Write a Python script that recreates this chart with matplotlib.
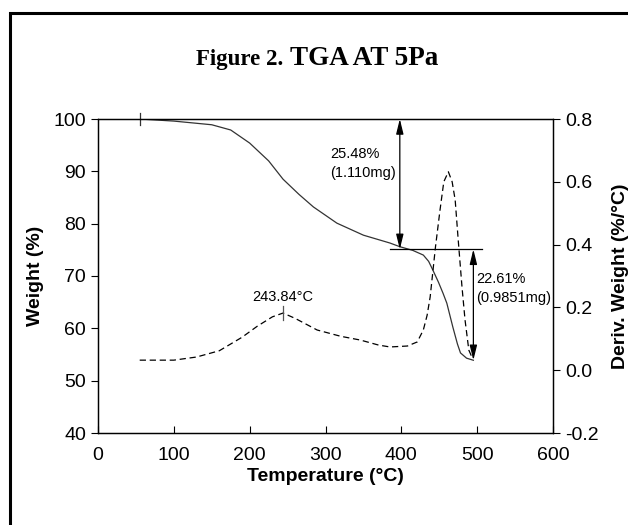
import numpy as np
import matplotlib.pyplot as plt
from matplotlib.patches import Rectangle

plt.rcParams['font.family'] = ['Liberation Sans', 'DejaVu Sans']

# weight curve (solid, left axis)
temp_w = [55, 100, 150, 175, 200, 225, 244, 265, 284, 315, 350, 385, 398, 415, 429, 436, 442, 449, 455, 460, 468, 474, 478, 486, 495]
weight = [100, 99.6, 98.9, 97.9, 95.4, 92.0, 88.5, 85.6, 83.2, 80.1, 77.8, 76.3, 75.6, 74.9, 74.0, 72.8, 71.0, 68.8, 66.7, 64.8, 60.2, 57.0, 55.3, 54.3, 53.9]

# derivative curve (dashed, right axis)
temp_d = [55, 100, 130, 160, 190, 210, 230, 244, 260, 289, 320, 346, 370, 385, 408, 421, 429, 434, 438, 445, 451, 456, 462, 467, 471, 475, 480, 484, 489, 493]
deriv = [0.032, 0.032, 0.042, 0.062, 0.105, 0.140, 0.170, 0.182, 0.165, 0.128, 0.108, 0.096, 0.080, 0.074, 0.077, 0.090, 0.128, 0.175, 0.233, 0.392, 0.51, 0.60, 0.632, 0.60, 0.542, 0.415, 0.265, 0.16, 0.064, 0.042]

peak_t = 243.84
peak_d = 0.182
step1_t = 398
step2_t = 495
level_top = 100
level_mid = 75.1
level_end = 53.9

fig = plt.figure(figsize=(6.28, 5.25), dpi=100)
ax = fig.add_axes([98/628, 1-433/525, 455/628, 314/525])
ax2 = ax.twinx()

ax.plot(temp_w, weight, color='#333333', lw=0.9)
ax2.plot(temp_d, deriv, color='black', lw=0.9, ls=(0, (5, 3)))

ax.set_xlim(0, 600)
ax.set_ylim(40, 100)
ax2.set_ylim(-0.2, 0.8)
ax.set_xticks(range(0, 601, 100))
ax.set_yticks(range(40, 101, 10))
ax2.set_yticks([-0.2, 0.0, 0.2, 0.4, 0.6, 0.8])
ax2.set_yticklabels(['-0.2', '0.0', '0.2', '0.4', '0.6', '0.8'])

ax.tick_params(axis='x', direction='in', length=5, labelsize=14, pad=10)
ax.tick_params(axis='y', direction='out', length=5, labelsize=14)
ax2.tick_params(axis='y', direction='out', length=5, labelsize=14)
for a in (ax, ax2):
    for s in a.spines.values():
        s.set_linewidth(0.9)

ax.set_xlabel('Temperature (°C)', fontsize=14, fontweight='bold', labelpad=3)
ax.set_ylabel('Weight (%)', fontsize=14, fontweight='bold', labelpad=7)
ax2.set_ylabel('Deriv. Weight (%/°C)', fontsize=14, fontweight='bold', labelpad=10)

# markers
ax.plot([temp_w[0], temp_w[0]], [98.8, 101.2], color='#333333', lw=0.9, clip_on=False)
ax2.plot([peak_t, peak_t], [peak_d - 0.022, peak_d + 0.022], color='#555555', lw=0.9)
ax2.text(peak_t, peak_d + 0.03, '243.84°C', ha='center', va='bottom', fontsize=10.5)

# step annotations
arrow_style = dict(arrowstyle='<|-|>,head_length=0.9,head_width=0.22', color='black',
                   lw=0.9, mutation_scale=10, shrinkA=0, shrinkB=0)
ax.annotate('', xy=(step1_t, level_top), xytext=(step1_t, level_mid), arrowprops=arrow_style)
ax.plot([385, 507], [level_mid, level_mid], color='black', lw=0.9)
ax.annotate('', xy=(step2_t, level_mid), xytext=(step2_t, level_end), arrowprops=arrow_style)
ax.text(306, 91.5, '25.48%\n(1.110mg)', ha='left', va='center', fontsize=10.5, linespacing=1.5)
ax.text(499, 67.6, '22.61%\n(0.9851mg)', ha='left', va='center', fontsize=10.5, linespacing=1.5)

# title
fig.text(283/628, 1-65/525, 'Figure 2.', ha='right', va='baseline', fontsize=16.5,
         fontweight='bold', family='Liberation Serif')
fig.text(290/628, 1-65/525, 'TGA AT 5Pa', ha='left', va='baseline', fontsize=19.5,
         fontweight='bold', family='Liberation Serif')

# outer frame
fig.patches.append(Rectangle((10/628, -0.1), 1.2, 1.1 - 13/525, transform=fig.transFigure,
                             fill=False, edgecolor='black', lw=2.2))

fig.savefig('out.png', dpi=100)
